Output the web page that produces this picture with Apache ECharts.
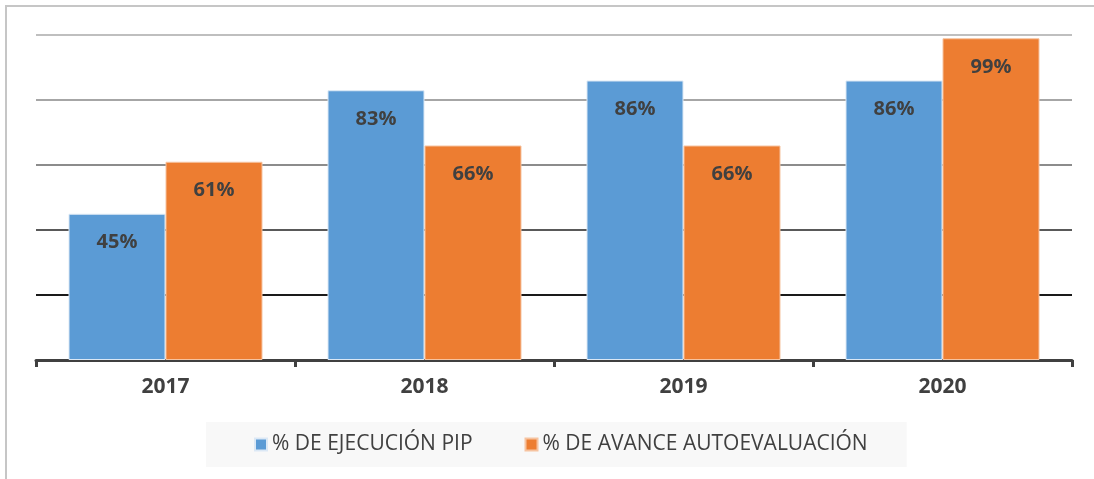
<!DOCTYPE html>
<html>
<head>
<meta charset="utf-8">
<script src="https://cdn.jsdelivr.net/npm/echarts@6/dist/echarts.min.js"></script>
<style>
  html, body { margin: 0; padding: 0; background: #fff; }
  #chart { width: 1094px; height: 479px; }
</style>
</head>
<body>
<div id="chart"></div>
<script>
// años
const years = ['2017', '2018', '2019', '2020'];
// porcentajes
const ejecucionPip = [45, 83, 86, 86];
const avanceAutoeval = [61, 66, 66, 99];
const seriesNames = ['% DE EJECUCIÓN PIP', '% DE AVANCE AUTOEVALUACIÓN'];

const chart = echarts.init(document.getElementById('chart'));

const labelStyle = {
  show: true,
  position: 'insideTop',
  distance: 19,
  formatter: '{c}%',
  color: '#404040',
  fontFamily: 'Open Sans',
  fontWeight: 'bold',
  fontSize: 20
};

const option = {
  animation: false,
  backgroundColor: '#fff',
  graphic: [
    {
      type: 'rect',
      shape: { x: 6, y: 6, width: 1200, height: 600 },
      style: { fill: 'none', stroke: '#c6c6c6', lineWidth: 2 },
      z: -1
    }
  ],
  grid: { left: 36, right: 22, top: 35, bottom: 119 },
  legend: {
    left: 206,
    top: 422,
    padding: [12, 39, 12, 48],
    backgroundColor: '#f8f8f8',
    icon: 'rect',
    itemWidth: 12,
    itemHeight: 12,
    itemGap: 52,
    textStyle: { color: '#404040', fontFamily: 'Open Sans', fontSize: 21 }
  },
  xAxis: {
    type: 'category',
    data: years,
    axisLine: { lineStyle: { color: '#404040', width: 3 } },
    axisTick: { show: true, length: 7, lineStyle: { color: '#404040', width: 3 } },
    axisLabel: {
      margin: 17,
      color: '#404040',
      fontFamily: 'Open Sans',
      fontWeight: 'bold',
      fontSize: 21
    }
  },
  yAxis: {
    type: 'value',
    min: 0,
    max: 100,
    interval: 20,
    axisLabel: { show: false },
    axisLine: { show: false },
    axisTick: { show: false },
    splitLine: {
      lineStyle: {
        // mas oscuras abajo, mas claras arriba
        color: ['#404040', '#1a1a1a', '#595959', '#8c8c8c', '#a6a6a6', '#bfbfbf'],
        width: 2
      }
    }
  },
  series: [
    {
      name: seriesNames[0],
      type: 'bar',
      data: ejecucionPip,
      barWidth: 97,
      barGap: '0%',
      itemStyle: { color: '#5b9bd5', borderColor: '#dbe8f5', borderWidth: 1 },
      label: labelStyle
    },
    {
      name: seriesNames[1],
      type: 'bar',
      data: avanceAutoeval,
      barWidth: 97,
      barGap: '0%',
      itemStyle: { color: '#ed7d31', borderColor: '#f6c3a0', borderWidth: 1 },
      label: labelStyle
    }
  ]
};

chart.setOption(option);
</script>
</body>
</html>
